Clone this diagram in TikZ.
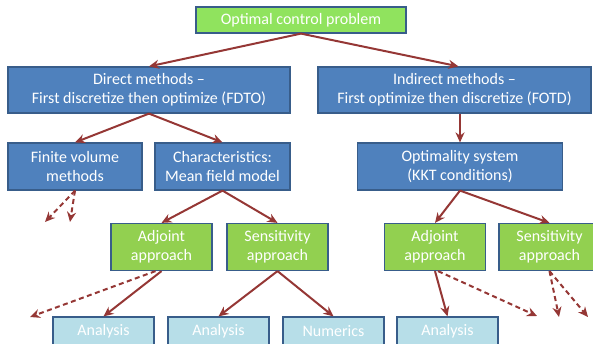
\documentclass[tikz,border=0pt]{standalone}
\usepackage{fontspec}
\setmainfont{Carlito}
\usepackage{tikz}
\usetikzlibrary{arrows.meta}

\definecolor{boxblue}{HTML}{4F81BD}
\definecolor{boxline}{HTML}{385D8A}
\definecolor{boxgreen}{HTML}{92D050}
\definecolor{topgreen}{HTML}{90E35E}
\definecolor{boxcyan}{HTML}{B7DEE8}
\definecolor{arrowred}{HTML}{953735}

\tikzset{
    box/.style={draw=boxline, line width=1.2pt, text=white, align=center,
        inner sep=0pt, font=\fontsize{16}{19}\selectfont},
    bluebox/.style={box, fill=boxblue, minimum height=46pt},
    greenbox/.style={box, fill=boxgreen, minimum width=101pt, minimum height=47pt},
    cyanbox/.style={box, fill=boxcyan, minimum width=101pt, minimum height=28pt},
    link/.style={draw=arrowred, line width=2pt, -{Stealth[length=10pt,width=9pt]}},
    dlink/.style={link, dash pattern=on 5pt off 3.5pt}
}

\begin{document}
\begin{tikzpicture}[x=1pt,y=-1pt]
        \useasboundingbox (0,0) rectangle (593,343);
        \clip (0,0) rectangle (593,343);

        \node[box, fill=topgreen, minimum width=210pt, minimum height=26pt] (ocp) at (301,20) {Optimal control problem};

        \node[bluebox, minimum width=282pt] (direct) at (149,90) {Direct methods --\\First discretize then optimize (FDTO)};
        \node[bluebox, minimum width=273pt] (indirect) at (454.5,90) {Indirect methods --\\First optimize then discretize (FOTD)};

        \node[bluebox, minimum width=134pt, minimum height=47pt] (fvm) at (75,166.5) {Finite volume\\methods};
        \node[bluebox, minimum width=135pt, minimum height=47pt] (mfm) at (222.5,166.5) {Characteristics:\\Mean field model};
        \node[bluebox, minimum width=205pt, minimum height=47pt] (kkt) at (460,166.5) {Optimality system\\(KKT conditions)};

        \node[greenbox] (adjL) at (161.5,247) {Adjoint\\approach};
        \node[greenbox] (sensL) at (277.5,247) {Sensitivity\\approach};
        \node[greenbox] (adjR) at (435,247) {Adjoint\\approach};
        \node[greenbox] (sensR) at (549.5,247) {Sensitivity\\approach};

        \node[cyanbox] (anaA) at (103.5,331) {Analysis};
        \node[cyanbox] (anaB) at (218.5,331) {Analysis};
        \node[cyanbox] (num) at (333.5,331) {Numerics};
        \node[cyanbox] (anaC) at (447.5,331) {Analysis};

        \coordinate (fvmA) at (45,222);
        \coordinate (fvmB) at (70,222);
        \coordinate (adjLout) at (30,317);
        \coordinate (adjRout) at (537,316);
        \coordinate (sensRA) at (559,317);
        \coordinate (sensRB) at (588,317);

        \draw[link] (ocp.south) -- (direct.north);
        \draw[link] (ocp.south) -- ([xshift=4pt]indirect.north);
        \draw[link] (direct.south) -- (fvm.north);
        \draw[link] (direct.south) -- (mfm.north);
        \draw[link] ([xshift=5.5pt]indirect.south) -- ([xshift=0pt]kkt.north);
        \draw[dlink] (fvm.south) -- (fvmA);
        \draw[dlink] (fvm.south) -- (fvmB);
        \draw[link] (mfm.south) -- (adjL.north);
        \draw[link] (mfm.south) -- (sensL.north);
        \draw[link] (kkt.south) -- (adjR.north);
        \draw[link] (kkt.south) -- (sensR.north);
        \draw[dlink] ([xshift=-6pt]adjL.south) -- (adjLout);
        \draw[link] (adjL.south) -- (anaA.north);
        \draw[link] (sensL.south) -- (anaB.north);
        \draw[link] (sensL.south) -- (num.north);
        \draw[link] (adjR.south) -- (anaC.north);
        \draw[dlink] ([xshift=3pt]adjR.south) -- (adjRout);
        \draw[dlink] (sensR.south) -- (sensRA);
        \draw[dlink] (sensR.south) -- (sensRB);
    \end{tikzpicture}
\end{document}
